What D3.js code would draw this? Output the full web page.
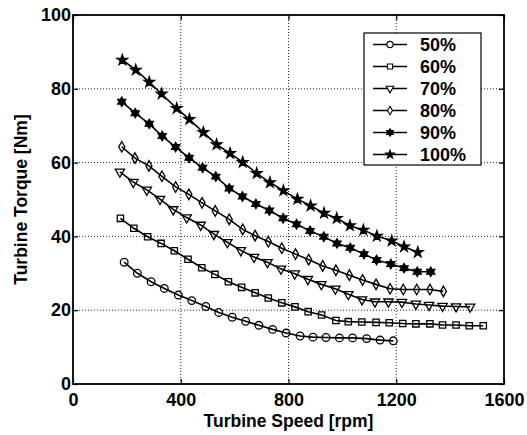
<!DOCTYPE html>
<html>
<head>
<meta charset="utf-8">
<script src="https://cdn.jsdelivr.net/npm/d3@7"></script>
<style>
  html, body { margin: 0; padding: 0; background: #fff; }
  #viz { width: 527px; height: 435px; }
  text { font-family: "Liberation Sans", Arial, sans-serif; fill: #000; font-weight: bold; }
</style>
</head>
<body>
<div id="viz"></div>
<script>
// series names (legend)
const seriesNames = ["50%", "60%", "70%", "80%", "90%", "100%"];

// speed [rpm] and torque [Nm] readings, one pair of arrays per series
const speed50 = [190, 239, 290, 339, 391, 441, 493, 541, 591, 641, 690, 741, 791, 843, 891, 939, 989, 1038, 1090, 1140, 1189];
const torque50 = [33.0, 30.0, 27.7, 25.9, 24.1, 22.6, 21.0, 19.4, 18.1, 17.0, 15.9, 14.8, 13.8, 13.0, 12.7, 12.6, 12.5, 12.5, 12.3, 11.9, 11.7];

const speed60 = [176, 226, 277, 327, 376, 427, 478, 527, 577, 626, 676, 725, 775, 824, 873, 923, 976, 1022, 1072, 1125, 1174, 1224, 1273, 1325, 1372, 1422, 1471, 1523];
const torque60 = [44.9, 42.2, 39.9, 38.1, 36.1, 33.8, 31.5, 29.7, 27.7, 26.2, 24.7, 23.3, 22.0, 20.9, 19.6, 18.7, 17.2, 16.9, 16.8, 16.7, 16.6, 16.4, 16.3, 16.3, 16.0, 16.0, 15.8, 15.8];

const speed70 = [174, 224, 274, 323, 372, 422, 474, 523, 573, 623, 672, 722, 772, 823, 872, 922, 974, 1022, 1073, 1121, 1171, 1221, 1273, 1322, 1372, 1422, 1474];
const torque70 = [57.5, 54.7, 52.6, 50.1, 47.3, 45.1, 43.1, 40.6, 38.4, 36.2, 34.4, 33.0, 31.2, 29.9, 28.4, 27.0, 25.8, 24.3, 22.9, 22.3, 22.3, 22.2, 21.7, 21.4, 21.1, 21.0, 20.9];

const speed80 = [181, 230, 282, 330, 381, 430, 479, 528, 580, 630, 676, 725, 775, 826, 875, 927, 976, 1026, 1075, 1125, 1177, 1226, 1276, 1325, 1375];
const torque80 = [64.3, 61.2, 59.1, 56.3, 53.4, 51.4, 49.1, 46.9, 44.6, 41.9, 40.2, 38.6, 36.8, 35.2, 33.7, 32.0, 30.8, 29.5, 28.2, 27.0, 25.8, 25.6, 25.6, 25.6, 25.1];

const speed90 = [181, 231, 283, 331, 381, 431, 481, 530, 580, 629, 679, 729, 780, 830, 880, 931, 980, 1029, 1080, 1127, 1180, 1229, 1278, 1328];
const torque90 = [76.5, 73.4, 70.5, 67.2, 64.2, 61.3, 58.6, 56.2, 53.0, 50.8, 48.8, 47.0, 44.9, 43.3, 41.5, 39.9, 38.1, 36.9, 35.2, 33.6, 32.5, 31.4, 30.4, 30.4];

const speed100 = [183, 233, 283, 329, 385, 432, 484, 533, 583, 630, 682, 731, 781, 833, 882, 932, 979, 1028, 1078, 1128, 1183, 1229, 1280];
const torque100 = [87.8, 85.1, 81.8, 78.6, 74.7, 71.7, 68.2, 64.9, 62.5, 60.1, 57.1, 54.6, 52.4, 50.1, 48.3, 46.3, 44.9, 42.9, 41.7, 40.1, 38.8, 37.2, 35.7];

// axis ticks
const xTicks = [0, 400, 800, 1200, 1600];
const yTicks = [0, 20, 40, 60, 80, 100];

const speeds = [speed50, speed60, speed70, speed80, speed90, speed100];
const torques = [torque50, torque60, torque70, torque80, torque90, torque100];

function renderChart() {
    const mount = document.getElementById("viz");
    const width = 527, height = 435;
    const margin = { top: 15, right: 23, bottom: 51, left: 73 };

    const svg = d3.select(mount).append("svg")
        .attr("width", width)
        .attr("height", height);

    const x = d3.scaleLinear().domain([0, 1600]).range([margin.left, width - margin.right]);
    const y = d3.scaleLinear().domain([0, 100]).range([height - margin.bottom, margin.top]);

    // dotted grid
    const grid = svg.append("g")
        .attr("stroke", "#222")
        .attr("stroke-width", 1)
        .attr("stroke-dasharray", "1,2");
    grid.selectAll("line.gx")
        .data(xTicks.slice(1, -1))
        .join("line")
        .attr("x1", d => x(d)).attr("x2", d => x(d))
        .attr("y1", y(0)).attr("y2", y(100));
    grid.selectAll("line.gy")
        .data(yTicks.slice(1, -1))
        .join("line")
        .attr("class", "gy")
        .attr("x1", x(0)).attr("x2", x(1600))
        .attr("y1", d => y(d)).attr("y2", d => y(d));

    // axes (inward ticks, MATLAB style)
    const fs = "18px";
    svg.append("g")
        .attr("transform", `translate(0,${y(0)})`)
        .call(d3.axisBottom(x).tickValues(xTicks).tickSize(-5).tickPadding(9).tickFormat(d3.format("d")))
        .call(g => g.selectAll("text").style("font-size", fs));
    svg.append("g")
        .attr("transform", `translate(${x(0)},0)`)
        .call(d3.axisLeft(y).tickValues(yTicks).tickSize(-5).tickPadding(2).tickFormat(d3.format("d")))
        .call(g => g.selectAll("text").style("font-size", fs));
    svg.append("g")
        .attr("transform", `translate(0,${y(100)})`)
        .call(d3.axisTop(x).tickValues(xTicks).tickSize(-5).tickFormat(""));
    svg.append("g")
        .attr("transform", `translate(${x(1600)},0)`)
        .call(d3.axisRight(y).tickValues(yTicks).tickSize(-5).tickFormat(""));
    svg.selectAll(".domain").remove();
    svg.selectAll(".tick line").attr("stroke", "#000").attr("stroke-width", 1.2);

    // frame
    svg.append("rect")
        .attr("x", x(0)).attr("y", y(100))
        .attr("width", x(1600) - x(0)).attr("height", y(0) - y(100))
        .attr("fill", "none").attr("stroke", "#000").attr("stroke-width", 1.8);

    // marker shapes
    const hexagram = {
        draw(ctx, size) {
            const r = Math.sqrt(size / 2.2);
            const ri = r * 0.58;
            for (let i = 0; i < 12; i++) {
                const a = -Math.PI / 2 + i * Math.PI / 6;
                const rr = i % 2 ? ri : r;
                if (i === 0) ctx.moveTo(rr * Math.cos(a), rr * Math.sin(a));
                else ctx.lineTo(rr * Math.cos(a), rr * Math.sin(a));
            }
            ctx.closePath();
        }
    };
    const markerDefs = [
        { type: d3.symbolCircle, size: 46, fill: "none", rot: 0 },
        { type: d3.symbolSquare, size: 40, fill: "none", rot: 0 },
        { type: d3.symbolTriangle, size: 38, fill: "none", rot: 180 },
        { type: d3.symbolDiamond, size: 32, fill: "none", rot: 0 },
        { type: hexagram, size: 48, fill: "#000", rot: 0 },
        { type: d3.symbolStar, size: 34, fill: "#000", rot: 0 }
    ];

    const line = d3.line().x(d => x(d[0])).y(d => y(d[1]));

    seriesNames.forEach((name, i) => {
        const pts = speeds[i].map((s, j) => [s, torques[i][j]]);
        const g = svg.append("g");
        g.append("path")
            .datum(pts)
            .attr("d", line)
            .attr("fill", "none")
            .attr("stroke", "#000")
            .attr("stroke-width", 1.6);
        const m = markerDefs[i];
        g.selectAll("path.mk")
            .data(pts)
            .join("path")
            .attr("class", "mk")
            .attr("d", d3.symbol(m.type, m.size))
            .attr("transform", d => `translate(${x(d[0])},${y(d[1])}) rotate(${m.rot})`)
            .attr("fill", m.fill)
            .attr("stroke", "#000")
            .attr("stroke-width", 1.3);
    });

    // legend
    const lg = svg.append("g");
    lg.append("rect")
        .attr("x", 364).attr("y", 33)
        .attr("width", 117).attr("height", 132)
        .attr("fill", "#fff").attr("stroke", "#000").attr("stroke-width", 1.2);
    seriesNames.forEach((name, i) => {
        const cy = 44.5 + i * 22;
        const m = markerDefs[i];
        lg.append("line")
            .attr("x1", 373).attr("x2", 407)
            .attr("y1", cy).attr("y2", cy)
            .attr("stroke", "#000").attr("stroke-width", 1.3);
        lg.append("path")
            .attr("d", d3.symbol(m.type, m.size * 0.65))
            .attr("transform", `translate(390,${cy}) rotate(${m.rot})`)
            .attr("fill", m.fill === "none" ? "#fff" : m.fill)
            .attr("stroke", "#000").attr("stroke-width", 1.1);
        lg.append("text")
            .attr("x", 420).attr("y", cy + 6.5)
            .style("font-size", "18px")
            .text(name);
    });

    // axis titles
    svg.append("text")
        .attr("x", (x(0) + x(1600)) / 2).attr("y", 427)
        .attr("text-anchor", "middle")
        .style("font-size", "17.5px")
        .text("Turbine Speed [rpm]");
    svg.append("text")
        .attr("transform", `translate(27,${(y(0) + y(100)) / 2}) rotate(-90)`)
        .attr("text-anchor", "middle")
        .style("font-size", "17.5px")
        .text("Turbine Torque [Nm]");
}

renderChart();
</script>
</body>
</html>
